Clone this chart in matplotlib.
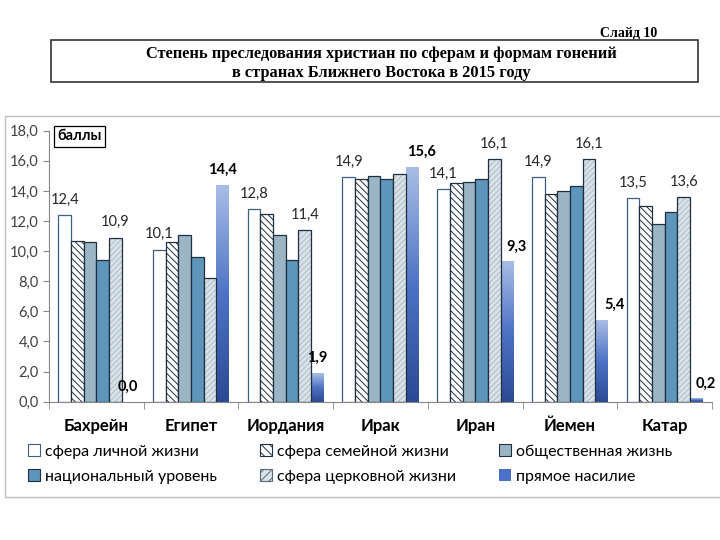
import numpy as np
import matplotlib
matplotlib.use("Agg")
import matplotlib.pyplot as plt
from matplotlib.patches import Rectangle
from matplotlib.colors import LinearSegmentedColormap
from matplotlib.ticker import FuncFormatter, FixedLocator

plt.rcParams['font.family'] = ['Lato', 'DejaVu Sans']
plt.rcParams['hatch.linewidth'] = 0.7

countries = ["Бахрейн", "Египет", "Иордания", "Ирак", "Иран", "Йемен", "Катар"]
series_names = ["сфера личной жизни", "сфера семейной жизни", "общественная жизнь",
                "национальный уровень", "сфера церковной жизни", "прямое насилие"]

personal = [12.4, 10.1, 12.8, 14.9, 14.1, 14.9, 13.5]
family = [10.7, 10.6, 12.5, 14.8, 14.5, 13.8, 13.0]
public = [10.6, 11.1, 11.1, 15.0, 14.6, 14.0, 11.8]
national = [9.4, 9.6, 9.4, 14.8, 14.8, 14.3, 12.6]
church = [10.9, 8.2, 11.4, 15.1, 16.1, 16.1, 13.6]
violence = [0.0, 14.4, 1.9, 15.6, 9.3, 5.4, 0.2]

# which labels are shown on the original
personal_labeled = [True] * 7
church_labeled = [True, False, True, False, True, True, True]
# horizontal nudge of the bold labels, in points
violence_dx = [0, 0, 0, 7, 7, 9, 7]

def fmt(v):
    return f"{v:.1f}".replace(".", ",")

fig = plt.figure(figsize=(7.2, 5.4), dpi=100)

# outer chart frame (right side runs off the picture)
fig.patches.append(Rectangle((5 / 720, 1 - 497 / 540), 730 / 720, 381 / 540,
                             transform=fig.transFigure, fill=False,
                             edgecolor="#bfbfbf", linewidth=1.0))
# title box
fig.patches.append(Rectangle((51 / 720, 1 - 82 / 540), 647 / 720, 42 / 540,
                             transform=fig.transFigure, fill=False,
                             edgecolor="#333333", linewidth=1.2))
fig.text(657 / 720, 1 - 33 / 540, "Слайд 10", ha="right", va="center",
         family="Liberation Serif", weight="bold", fontsize=10)
fig.text(381 / 720, 1 - 54 / 540,
         "Степень преследования христиан по сферам и формам гонений",
         ha="center", va="center", family="Liberation Serif", weight="bold", fontsize=11.8)
fig.text(381 / 720, 1 - 73 / 540, "в странах Ближнего Востока в 2015 году",
         ha="center", va="center", family="Liberation Serif", weight="bold", fontsize=11.8)

ax = fig.add_axes([49 / 720, 1 - 401.7 / 540, 663 / 720, 271 / 540])

x = np.arange(len(countries))
w = 0.134
edge = "#1f2f3f"

ax.bar(x - 2.5 * w, personal, w, color="white", edgecolor="#3e5f80", linewidth=0.9, zorder=2)
ax.bar(x - 1.5 * w, family, w, color="white", edgecolor=edge, hatch="\\\\\\\\\\", linewidth=0.9, zorder=2)
ax.bar(x - 0.5 * w, public, w, color="#9bb5c4", edgecolor=edge, linewidth=0.9, zorder=2)
ax.bar(x + 0.5 * w, national, w, color="#5d95bb", edgecolor=edge, linewidth=0.9, zorder=2)
ax.bar(x + 1.5 * w, church, w, color="#d9e2e8", edgecolor="#aebdc6", hatch="//////", linewidth=0, zorder=2)
ax.bar(x + 1.5 * w, church, w, color="none", edgecolor=edge, linewidth=0.9, zorder=3)
bars6 = ax.bar(x + 2.5 * w, violence, w, color="none", linewidth=0, zorder=2)

grad_cmap = LinearSegmentedColormap.from_list("grad", ["#2b4a94", "#4e73c5", "#a9bee6"])
grad = np.linspace(0, 1, 256).reshape(-1, 1)
for p in bars6:
    h = p.get_height()
    if h <= 0:
        continue
    ax.imshow(grad, extent=(p.get_x(), p.get_x() + p.get_width(), 0, h),
              origin="lower", cmap=grad_cmap, aspect="auto", zorder=2)

ax.set_xlim(-0.5, len(countries) - 0.5)
ax.set_ylim(0, 18)

# value labels
for i in range(len(countries)):
    if personal_labeled[i]:
        ax.annotate(fmt(personal[i]), (x[i] - 2.5 * w, personal[i]), xytext=(0, 6),
                    textcoords="offset points", ha="center", va="bottom",
                    fontsize=10.5, color="#262626")
    if church_labeled[i]:
        ax.annotate(fmt(church[i]), (x[i] + 1.5 * w, church[i]), xytext=(0, 6),
                    textcoords="offset points", ha="center", va="bottom",
                    fontsize=10.5, color="#262626")
    ax.annotate(fmt(violence[i]), (x[i] + 2.5 * w, violence[i]), xytext=(violence_dx[i], 6),
                textcoords="offset points", ha="center", va="bottom",
                fontsize=10.5, weight="bold", color="black")

ax.set_yticks(np.arange(0, 18.1, 2))
ax.yaxis.set_major_formatter(FuncFormatter(lambda v, pos: fmt(v)))
ax.tick_params(axis="y", labelsize=10.5, labelcolor="#404040", color="#868686", length=4)

ax.set_xticks(x)
ax.set_xticklabels(countries, fontsize=12, weight="bold")
ax.xaxis.set_minor_locator(FixedLocator(np.arange(-0.5, len(countries), 1)))
ax.tick_params(axis="x", which="major", length=0, pad=12)
ax.tick_params(axis="x", which="minor", length=5, color="#868686")

for s in ["top", "right"]:
    ax.spines[s].set_visible(False)
for s in ["left", "bottom"]:
    ax.spines[s].set_color("#868686")

fig.text(79.5 / 720, 1 - 136.5 / 540, "баллы", ha="center", va="center",
         fontsize=10.5, weight="bold",
         bbox=dict(boxstyle="square,pad=0.25", facecolor="white", edgecolor="black", linewidth=0.9))

handles = [
    Rectangle((0, 0), 1, 1, facecolor="white", edgecolor="#3e5f80", linewidth=0.8),
    Rectangle((0, 0), 1, 1, facecolor="white", edgecolor=edge, hatch="\\\\\\\\", linewidth=0.8),
    Rectangle((0, 0), 1, 1, facecolor="#9bb5c4", edgecolor=edge, linewidth=0.8),
    Rectangle((0, 0), 1, 1, facecolor="#5d95bb", edgecolor=edge, linewidth=0.8),
    Rectangle((0, 0), 1, 1, facecolor="#d9e2e8", edgecolor="#5a6a74", hatch="////", linewidth=0.8),
    Rectangle((0, 0), 1, 1, facecolor="#4a70c8", edgecolor="none"),
]
# legend fills row-wise in the original
order = [0, 3, 1, 4, 2, 5]
fig.legend([handles[k] for k in order], [series_names[k] for k in order],
           ncol=3, loc="center", bbox_to_anchor=(350 / 720, 1 - 464 / 540),
           frameon=False, fontsize=11.5, handlelength=0.8, handleheight=0.8,
           handletextpad=0.3, columnspacing=2.65, labelspacing=0.65)

fig.savefig("out.png", dpi=100)
